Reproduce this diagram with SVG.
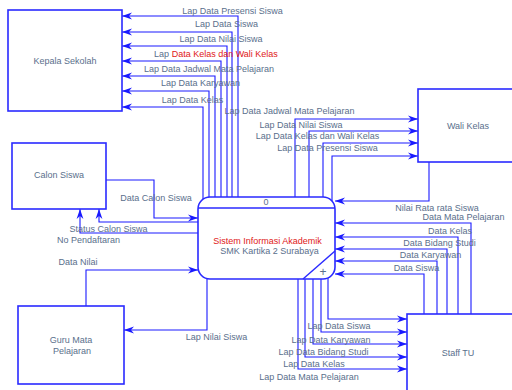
<svg xmlns="http://www.w3.org/2000/svg" width="512" height="390" viewBox="0 0 512 390">
<style>
.box{fill:#fff;stroke:#2a2aff;stroke-width:1.6}
.ln{fill:none;stroke:#1a1aff;stroke-width:1.1;marker-end:url(#a)}
text{font-family:"Liberation Sans",Arial,sans-serif;font-size:9px;fill:#5a6f8c;text-anchor:middle}
.red{fill:#e01818}
</style>
<defs>
<marker id="a" markerWidth="11" markerHeight="8" refX="10" refY="4" orient="auto" markerUnits="userSpaceOnUse">
<path d="M0,0.6 L10,4 L0,7.4 L3,4 Z" fill="#1a1aff"/>
</marker>
</defs>
<rect width="512" height="390" fill="#fff"/>

<g id="connectors">
<path class="ln" d="M238,197 V16 H122"/>
<path class="ln" d="M232,197 V32 H122"/>
<path class="ln" d="M227,197 V46 H122"/>
<path class="ln" d="M221,197 V61 H122"/>
<path class="ln" d="M215,197 V76 H122"/>
<path class="ln" d="M209,198 V91 H122"/>
<path class="ln" d="M203,200 V107 H122"/>
<path class="ln" d="M295,197 V119 H418"/>
<path class="ln" d="M309,197 V131 H418"/>
<path class="ln" d="M323,197 V143 H418"/>
<path class="ln" d="M332,201 V156 H418"/>
<path class="ln" d="M429,162 V201 H335"/>
<path class="ln" d="M471,314 V223 H335"/>
<path class="ln" d="M458,314 V237 H335"/>
<path class="ln" d="M447,314 V249 H335"/>
<path class="ln" d="M437,314 V261 H335"/>
<path class="ln" d="M424,314 V274 H335"/>
<path class="ln" d="M328,278 V319 H407"/>
<path class="ln" d="M321,279 V332 H407"/>
<path class="ln" d="M313,279 V344 H407"/>
<path class="ln" d="M305,279 V357 H407"/>
<path class="ln" d="M298,279 V369 H407"/>
<path class="ln" d="M106,180 H154 V218 H198"/>
<path class="ln" d="M198,222 H99 V209"/>
<path class="ln" d="M198,233 H80 V209"/>
<path class="ln" d="M86,306 V270 H198"/>
<path class="ln" d="M207,279 V330 H124"/>

<text x="232.5" y="14">Lap Data Presensi Siswa</text>
<text x="226.5" y="27">Lap Data Siswa</text>
<text x="221" y="42">Lap Data Nilai Siswa</text>
<text x="216" y="57">Lap <tspan class="red">Data Kelas dan Wali Kelas</tspan></text>
<text x="209" y="72">Lap Data Jadwal Mata Pelajaran</text>
<text x="200.5" y="86">Lap Data Karyawan</text>
<text x="192.5" y="103">Lap Data Kelas</text>

<text x="289.5" y="114">Lap Data Jadwal Mata Pelajaran</text>
<text x="301" y="128">Lap Data Nilai Siswa</text>
<text x="317.5" y="139">Lap Data Kelas dan Wali Kelas</text>
<text x="327.5" y="151">Lap Data Presensi Siswa</text>

<text x="437" y="211">Nilai Rata rata Siswa</text>
<text x="463.5" y="220">Data Mata Pelajaran</text>
<text x="450" y="234">Data Kelas</text>
<text x="439.5" y="246">Data Bidang Studi</text>
<text x="430.5" y="258">Data Karyawan</text>
<text x="416.5" y="271">Data Siswa</text>

<text x="339" y="329">Lap Data Siswa</text>
<text x="331" y="343">Lap Data Karyawan</text>
<text x="323.5" y="355">Lap Data Bidang Studi</text>
<text x="314" y="367">Lap Data Kelas</text>
<text x="309" y="380">Lap Data Mata Pelajaran</text>

<text x="156" y="201">Data Calon Siswa</text>
<text x="108.5" y="232">Status Calon Siswa</text>
<text x="88.5" y="243">No Pendaftaran</text>
<text x="78" y="265">Data Nilai</text>
<text x="216.5" y="340">Lap Nilai Siswa</text>
</g>

<g id="kepala-sekolah">
<rect class="box" x="8" y="10" width="114" height="101"/>
<text x="65" y="64">Kepala Sekolah</text>
</g>

<g id="wali-kelas">
<rect class="box" x="418" y="89" width="100" height="73"/>
<text x="468" y="129">Wali Kelas</text>
</g>

<g id="calon-siswa">
<rect class="box" x="12" y="143" width="94" height="66"/>
<text x="59" y="178">Calon Siswa</text>
</g>

<g id="guru-mata-pelajaran">
<rect class="box" x="18" y="306" width="106" height="78"/>
<text x="71" y="343">Guru Mata</text>
<text x="72" y="354">Pelajaran</text>
</g>

<g id="staff-tu">
<rect class="box" x="407" y="314" width="110" height="80"/>
<text x="458" y="356">Staff TU</text>
</g>

<g id="proses-0">
<rect class="box" x="198" y="197" width="137" height="82" rx="12" ry="12"/>
<line x1="198" y1="208" x2="335" y2="208" stroke="#2a2aff" stroke-width="1.4"/>
<line x1="303" y1="279" x2="335" y2="251" stroke="#2a2aff" stroke-width="1.4"/>
<text x="266" y="205">0</text>
<text x="267.5" y="244" class="red">Sistem Informasi Akademik</text>
<text x="269.5" y="254">SMK Kartika 2 Surabaya</text>
<text x="323" y="276" style="font-size:12px">+</text>
</g>
</svg>
